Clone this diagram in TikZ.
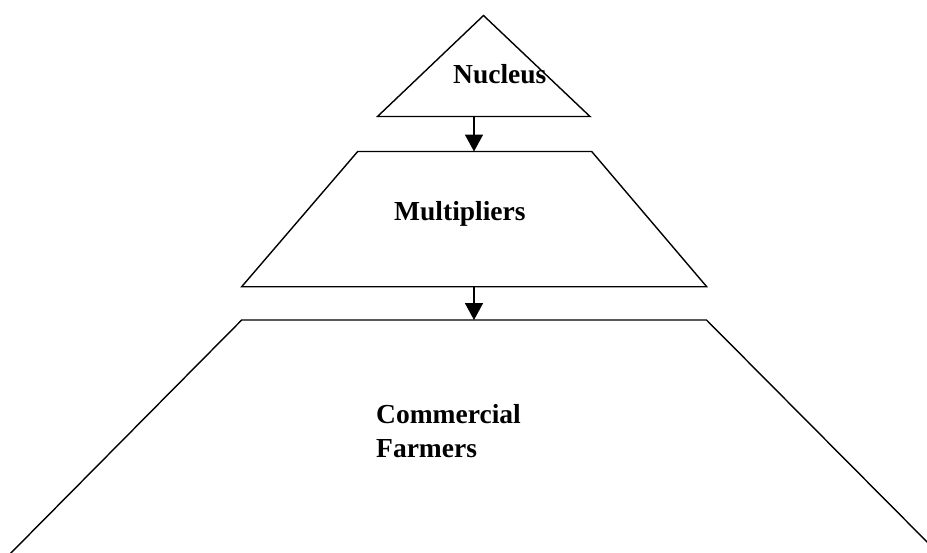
\documentclass[tikz,border=0pt]{standalone}
\usepackage{fontspec}
\setmainfont{Liberation Serif}
\usetikzlibrary{arrows.meta}
\begin{document}
\begin{tikzpicture}[x=1pt,y=-1pt,
  outline/.style={draw=black,line width=1.4pt,line join=miter},
  flow/.style={draw=black,line width=1.6pt,-{Triangle[width=18pt,length=17pt]}},
  lbl/.style={anchor=base west,inner sep=0pt,font=\fontsize{27.5}{34}\selectfont\bfseries}]
\useasboundingbox (0,0) rectangle (927,552);
\clip (0,0) rectangle (927,552);
% triangle (Nucleus)
\coordinate (tA) at (483.5,15.5);
\coordinate (tL) at (377.5,116.5);
\coordinate (tR) at (590,116.5);
\draw[outline] (tA) -- (tR) -- (tL) -- cycle;
% trapezoid (Multipliers)
\coordinate (mTL) at (357.7,151.5);
\coordinate (mTR) at (591.7,151.5);
\coordinate (mBR) at (706.7,286.7);
\coordinate (mBL) at (241.7,286.7);
\draw[outline] (mTL) -- (mTR) -- (mBR) -- (mBL) -- cycle;
% big trapezoid (Commercial Farmers)
\coordinate (cTL) at (241.7,320);
\coordinate (cTR) at (706.5,320);
\coordinate (cBR) at (945,560);
\coordinate (cBL) at (4,560);
\draw[outline] (cBL) -- (cTL) -- (cTR) -- (cBR);
% arrows
\coordinate (a1s) at (474,116.5);
\coordinate (a1e) at (474,151.5);
\coordinate (a2s) at (474,286.7);
\coordinate (a2e) at (474,320);
\draw[flow] (a1s) -- (a1e);
\draw[flow] (a2s) -- (a2e);
% labels
\node[lbl] (nuc) at (453,83) {Nucleus};
\node[lbl] (mul) at (394,220) {Multipliers};
\node[lbl] (com) at (376,423) {Commercial};
\node[lbl] (far) at (376,457) {Farmers};
\end{tikzpicture}
\end{document}
